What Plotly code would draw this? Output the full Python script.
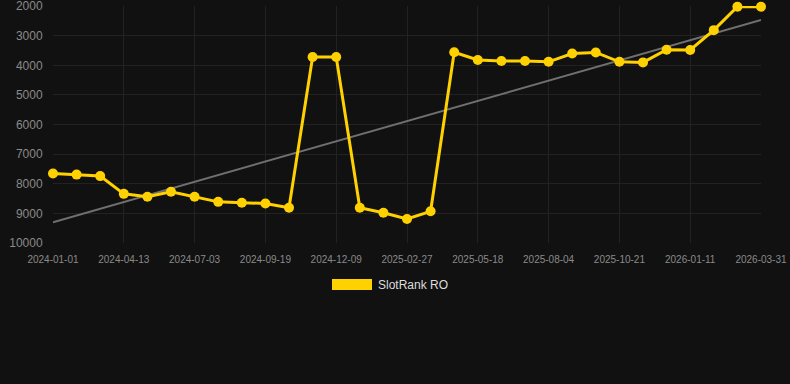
import numpy as np
import plotly.graph_objects as go

dates = ["2024-01-01", "2024-02-04", "2024-03-09", "2024-04-13", "2024-05-10", "2024-06-06",
         "2024-07-03", "2024-07-29", "2024-08-24", "2024-09-19", "2024-10-16", "2024-11-12",
         "2024-12-09", "2025-01-04", "2025-01-31", "2025-02-27", "2025-03-25", "2025-04-21",
         "2025-05-18", "2025-06-13", "2025-07-09", "2025-08-04", "2025-08-30", "2025-09-25",
         "2025-10-21", "2025-11-17", "2025-12-14", "2026-01-11", "2026-02-06", "2026-03-05",
         "2026-03-31"]
ranks = [7650, 7690, 7740, 8340, 8440, 8270, 8440, 8610, 8640, 8665, 8810, 3720, 3720,
         8810, 8980, 9190, 8930, 3560, 3820, 3850, 3850, 3880, 3600, 3565, 3880, 3900,
         3470, 3480, 2810, 2020, 2020]
series_name = "SlotRank RO"
y_ticks = [2000, 3000, 4000, 5000, 6000, 7000, 8000, 9000, 10000]
y_tick_labels = [str(v) for v in y_ticks]

idx = np.arange(len(ranks))
coef = np.polyfit(idx, ranks, 1)
trend = np.polyval(coef, idx)

L, R, T, B = 53, 29, 6, 141
W, H = 790, 384
pw, ph = W - L - R, H - T - B

gold = "#FFD100"
fig = go.Figure()
fig.add_trace(go.Scatter(x=dates, y=trend, mode="lines", line=dict(color="#707070", width=2),
                         hoverinfo="skip", showlegend=False, cliponaxis=False))
fig.add_trace(go.Scatter(x=dates, y=ranks, mode="lines+markers", name=series_name,
                         line=dict(color=gold, width=3), marker=dict(color=gold, size=10),
                         showlegend=False, cliponaxis=False))

fig.update_layout(
    width=W, height=H, autosize=False,
    margin=dict(l=L, r=R, t=T, b=B),
    paper_bgcolor="#111111", plot_bgcolor="#111111",
    font=dict(family="Liberation Sans, Arial, sans-serif", color="#8a8a8a"),
    xaxis=dict(type="category", categoryorder="array", categoryarray=dates,
               tickvals=dates[::3], ticktext=dates[::3], range=[0, len(dates) - 1],
               showgrid=True, gridcolor="#222222", gridwidth=1, zeroline=False,
               tickfont=dict(size=10, color="#8a8a8a"), ticks="outside", ticklen=7,
               tickcolor="#111111", showline=False, ticklabeloverflow="allow",
               automargin=False),
    yaxis=dict(range=[10000, 1995], tickvals=y_ticks, ticktext=y_tick_labels,
               showgrid=True, gridcolor="#222222",
               zeroline=False, tickfont=dict(size=12, color="#8a8a8a"), ticks="outside",
               ticklen=7, tickcolor="#111111", showline=False, ticklabeloverflow="allow",
               automargin=False),
    shapes=[dict(type="rect", xref="paper", yref="paper", x0=(332 - L) / pw, x1=(372 - L) / pw,
                 y0=(H - B - 290) / ph, y1=(H - B - 279) / ph,
                 fillcolor=gold, line=dict(width=0))],
    annotations=[dict(text=series_name, xref="paper", yref="paper", x=(376 - L) / pw,
                      y=(H - B - 284.5) / ph, xanchor="left", yanchor="middle",
                      showarrow=False, font=dict(size=12, color="#dddddd"))],
)
fig.write_html("out.html", config={"displayModeBar": False, "responsive": False},
               post_script="document.body.style.margin='0';document.body.style.overflow='hidden';document.body.style.background='#111111';")
